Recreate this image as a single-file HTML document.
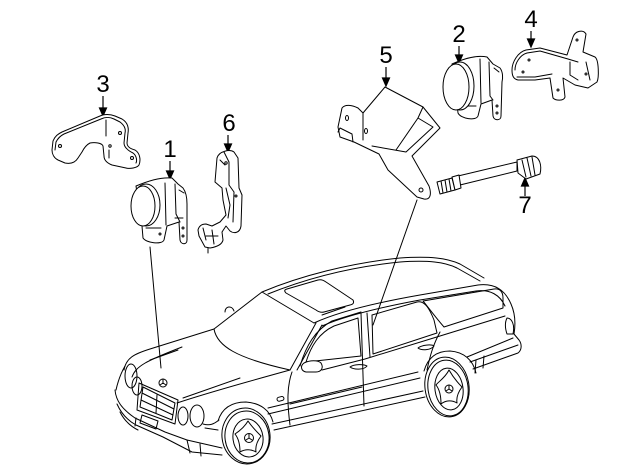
<!DOCTYPE html>
<html><head><meta charset="utf-8"><style>
html,body{margin:0;padding:0;background:#fff;}
svg{display:block;}
text{font-family:"Liberation Sans",Arial,sans-serif;font-size:24px;fill:#000;}
</style></head><body>
<svg width="640" height="471" viewBox="0 0 640 471" xmlns="http://www.w3.org/2000/svg">
<g fill="none" stroke="#000" stroke-width="1" stroke-linejoin="round" stroke-linecap="round">

<!-- ===== Labels & arrows ===== -->
</g>
<g text-anchor="middle">
<text x="103" y="92">3</text>
<text x="170" y="157">1</text>
<text x="229" y="131">6</text>
<text x="386" y="63">5</text>
<text x="459" y="42">2</text>
<text x="531" y="27">4</text>
<text x="525" y="213">7</text>
</g>
<g stroke="#000" stroke-width="1.2" fill="#000">
<line x1="103" y1="96" x2="103" y2="109"/><path d="M99.5,108 L106.5,108 L103,116 Z"/>
<line x1="170" y1="161" x2="170" y2="172"/><path d="M166.5,171 L173.5,171 L170,179 Z"/>
<line x1="228" y1="135" x2="228" y2="145"/><path d="M224.5,144 L231.5,144 L228,152 Z"/>
<line x1="386" y1="67" x2="386" y2="79"/><path d="M382.5,78 L389.5,78 L386,86 Z"/>
<line x1="459" y1="46" x2="459" y2="56"/><path d="M455.5,55 L462.5,55 L459,63 Z"/>
<line x1="531" y1="31" x2="531" y2="40"/><path d="M527.5,39 L534.5,39 L531,47 Z"/>
<line x1="525" y1="185" x2="525" y2="196"/><path d="M521.5,186 L528.5,186 L525,178 Z"/>
</g>

<g fill="none" stroke="#000" stroke-width="1" stroke-linejoin="round" stroke-linecap="round">
<!-- leader lines -->
<line x1="150" y1="247" x2="161" y2="368"/>
<line x1="417" y1="200" x2="373" y2="325"/>

<!-- ===== Part 3 bracket ===== -->
<path fill="#fff" d="M52,150 L53,141 C55,136 58,134 62,132 L100,116 C104,114 110,114 115,116 L122,119 C127,122 129,127 128,133 L127,143 C127,147 131,149 135,150 C140,153 141,160 139,165 C137,168 130,169 126,168 L112,165 C107,163 104,160 104,156 L103,146 C102,143 95,142 90,143 C86,145 84,148 82,152 L78,158 C75,163 70,164 65,163 L58,160 C54,158 52,154 52,150 Z"/>
<path d="M55,150 L56,142 C58,138 60,136 64,134 L101,119 C105,117 110,117 114,119 L120,122 C124,125 126,129 125,133 L124,143 C124,148 129,151 133,153 C137,156 137,161 136,163 M106,120 L106,136 M109,150 L109,158"/>
<circle cx="60" cy="146" r="1.5"/><circle cx="120" cy="133" r="1.5"/><circle cx="132" cy="158" r="1.5"/><circle cx="110" cy="146" r="1.2"/>

<!-- ===== Part 1 sensor ===== -->
<path fill="#fff" d="M136,186 C150,180 162,177 172,178 L178,184 L183,188 C186,192 187,198 187,204 L187,240 C187,245 181,245 180,240 L179,222 L167,226 L164,240 C162,245 146,243 143,238 L142,226 Z"/>
<path d="M175,184 L176,214 L180,222 M179,190 L184,193 M165,183 L166,225 M146,228 L161,228 M175,218 L183,218"/>
<circle cx="183" cy="228" r="1"/><circle cx="183" cy="236" r="1"/><circle cx="160" cy="234" r="1"/>
<ellipse fill="#fff" cx="146" cy="205" rx="14" ry="21"/>
<ellipse fill="#fff" cx="143" cy="206" rx="12" ry="20"/>

<!-- ===== Part 6 link ===== -->
<path fill="#fff" d="M217,158 C219,151 230,149 234,152 L238,158 L239,188 L242,195 L241,226 C240,233 234,234 230,231 L226,226 L222,232 L223,240 C222,245 216,247 210,248 L205,247 L199,236 L198,230 C199,226 202,224 206,224 L212,226 L220,222 L226,215 L223,200 L222,188 L215,182 Z"/>
<path d="M224,152 L229,162 L229,185 L234,192 L233,222 M220,160 L225,165 M226,188 L230,205 L228,218 M203,228 L206,240 M212,230 L214,244 M206,236 L218,236"/>
<line x1="208" y1="248" x2="208" y2="253"/>
<circle cx="226" cy="163" r="1.2"/><circle cx="236" cy="196" r="1"/>

<!-- ===== Part 5 bracket ===== -->
<path fill="#fff" d="M342,108 C345,104 352,105 358,108 L363,113 L385,87 L423,107 L440,128 L412,156 L429,186 C432,195 430,200 424,199 L417,197 L388,170 L379,154 L354,142 L340,137 L338,127 Z"/>
<path d="M363,113 L363,140 M423,107 L418,118 L433,127 L406,152 L372,146 M418,118 L396,150 M340,128 L352,134 L353,142 M340,128 L338,132"/>
<ellipse cx="347" cy="118" rx="1.5" ry="2.5"/><ellipse cx="366" cy="131" rx="1.5" ry="2.5"/><circle cx="421" cy="190" r="2"/>

<!-- ===== Part 2 sensor ===== -->
<path fill="#fff" d="M452,64 C465,58 478,55 487,57 L493,64 L500,68 C503,72 503,78 502,82 L501,116 C501,121 494,121 493,116 L492,100 L481,104 L478,116 C476,121 461,119 458,113 L457,104 Z"/>
<path d="M489,62 L490,96 L493,100 M494,68 L499,72 M480,59 L481,103 M461,106 L476,106"/>
<circle cx="497" cy="106" r="1"/><circle cx="497" cy="113" r="1"/>
<ellipse fill="#fff" cx="460" cy="86" rx="14" ry="24"/>
<ellipse fill="#fff" cx="456" cy="87" rx="13" ry="23"/>

<!-- ===== Part 4 bracket ===== -->
<path fill="#fff" d="M512,70 C512,62 518,52 526,50 L540,48 L567,55 L573,37 C575,31 583,29 586,34 L583,52 L595,57 C599,60 599,78 597,82 L588,88 L575,85 L563,78 L565,97 C564,101 556,101 553,98 L550,78 L535,80 L518,80 C513,79 512,75 512,70 Z"/>
<path d="M515,70 C515,63 520,55 527,53 L540,51 L568,59 L578,62 M517,77 L535,77 L552,74 M570,62 L570,75 L578,80 M586,62 L590,80"/>
<circle cx="529" cy="60" r="1"/><circle cx="523" cy="72" r="1"/><circle cx="577" cy="40" r="1"/><circle cx="586" cy="74" r="1"/><circle cx="558" cy="90" r="1"/>

<!-- ===== Part 7 rod ===== -->
<path fill="#fff" d="M458,176 L517,162 L517,171 L460,185 Z"/>
<path fill="#fff" d="M437,182 L452,178 L455,190 L440,194 Z"/>
<path d="M441,181 L443,193 M445,180 L447,192 M449,179 L451,191"/>
<path fill="#fff" d="M452,177 L459,175 L461,188 L455,190 Z"/>
<path fill="#fff" d="M517,160 L532,156 C540,156 542,166 540,174 L526,179 L518,173 Z"/>
<path d="M522,160 L526,177 M527,158 L531,176 M532,157 L535,175"/>

<!-- ===== CAR ===== -->
<!-- hood & front -->
<path d="M124,370 C126,358 134,354 150,349 L214,329"/>
<path d="M132,377 C136,366 146,361 182,347"/>
<path d="M150,360 L178,350"/>
<path d="M183,398 L240,378"/>
<path d="M177,403 C210,392 250,381 290,370"/>
<path d="M125,366 C121,373 118,381 116,390"/>
<!-- windshield -->
<path d="M214,329 C217,346 236,358 290,370"/>
<path d="M214,329 L262,292 L314,323"/>
<path d="M290,370 L316,323 M297,370 L322,325"/>
<!-- far mirror -->
<path d="M225,312 C225,306 232,305 234,311"/>
<!-- roof -->
<path d="M262,292 C300,276 350,263 400,258 C430,256 447,258 460,264 L484,278"/>
<path d="M268,294 C305,279 350,267 400,262 C428,260 445,262 457,268 L480,281"/>
<path d="M314,323 C340,311 380,302 420,295 L478,285 C495,283 505,290 511,304 C515,313 516,322 514,334"/>
<path d="M322,326 C345,316 382,307 420,300 L476,291 C490,289 500,295 505,306"/>
<path d="M287,289 L318,280 Q322,279 326,282 L353,300 Q355,304 350,305 L324,312 Q320,313 316,310 L286,293 Q283,290 287,289 Z"/>
<path d="M322,315 L345,307"/>
<!-- side windows -->
<path d="M306,362 C311,346 319,333 334,326 L358,318 L361,356 Z"/>
<path d="M300,366 C306,346 315,330 332,321 L361,312"/>
<path d="M361,313 L364,406 M367,313 L370,357"/>
<path d="M372,315 L417,302 C425,300 430,310 434,320 L437,333 L373,354 Z"/>
<path d="M423,301 L494,289 C500,288 503,292 503,298 L503,308 L444,327 C436,318 428,307 423,301 Z"/>
<!-- belt line -->
<path d="M322,370 L365,359 L440,336 L505,316"/>
<!-- mirror -->
<path fill="#fff" d="M304,363 C310,360 318,360 321,363 C324,368 321,372 316,372 L306,372 C301,371 300,366 304,363 Z"/>
<!-- door edges -->
<path d="M292,372 C287,386 287,402 290,425"/>
<path d="M440,332 C433,345 430,356 427,370"/>
<!-- door handles -->
<path d="M350,367 C354,364 364,364 367,366 C364,370 354,370 350,367 Z"/>
<path d="M418,348 C422,345 431,344 434,346 C431,350 422,351 418,348 Z"/>
<!-- side marker -->
<rect x="277" y="397" width="7" height="4" rx="2" transform="rotate(-15 280 399)"/>
<!-- side moldings -->
<path d="M268,408 L418,372 M268,414 L420,378 M272,424 L423,391 M274,430 L425,397"/>
<path d="M290,404 L362,387"/>
<!-- rear -->
<path d="M507,318 C512,318 515,325 513,334 L507,334 C505,328 505,322 507,318 Z"/>
<path d="M514,334 L519,340 C522,344 522,350 518,353 L473,369 M467,357 L513,338 M470,362 L518,345"/>
<path d="M475,373 L476,360 M483,368 L484,356"/>
<!-- rear wheel -->
<path d="M424,371 C428,357 437,351 450,351 C464,352 473,360 476,373"/>
<ellipse cx="447" cy="387" rx="22" ry="30" transform="rotate(-8 447 387)" fill="#fff"/>
<ellipse cx="448" cy="388" rx="20" ry="28" transform="rotate(-8 448 388)"/>
<ellipse cx="449" cy="389" rx="14" ry="21" transform="rotate(-8 449 389)"/>
<path d="M449,370 C445,378 438,382 436,385 C440,390 441,397 441,404 C446,400 452,400 457,403 C456,397 459,391 462,387 C458,383 453,377 449,370 Z"/>
<circle cx="449" cy="389" r="4"/>
<path d="M449,385 L449,389 L446,391 M449,389 L452,391"/>
<!-- front wheel -->
<path d="M218,421 C222,408 232,402 246,402 C260,403 270,410 273,422"/>
<ellipse cx="246" cy="436" rx="24" ry="28" transform="rotate(-8 246 436)" fill="#fff"/>
<ellipse cx="247" cy="437" rx="22" ry="26" transform="rotate(-8 247 437)"/>
<ellipse cx="248" cy="438" rx="15" ry="19" transform="rotate(-8 248 438)"/>
<path d="M248,421 C244,428 238,432 235,434 C239,439 240,446 240,452 C245,449 251,449 256,452 C255,446 258,440 261,436 C257,432 252,427 248,421 Z"/>
<circle cx="249" cy="438" r="4.5"/>
<path d="M249,434 L249,438 L246,440 M249,438 L252,440"/>
<!-- front fender lower -->
<path d="M203,424 C210,426 214,424 219,420"/>
<path d="M205,428 L218,430"/>
<!-- grille -->
<path d="M139,383 L178,400 L175,424 L137,410 Z"/>
<path d="M143,387 L175,403 L172,420 L140,407 Z"/>
<path d="M142,393 L174,409 M141,400 L173,415 M157,395 L156,413"/>
<!-- headlights -->
<ellipse cx="131" cy="376" rx="6" ry="12"/>
<ellipse cx="137" cy="386" rx="5" ry="9"/>
<ellipse cx="183" cy="416" rx="5" ry="9"/>
<ellipse cx="197" cy="416" rx="7" ry="11"/>
<!-- star -->
<circle cx="163" cy="383" r="4"/>
<path d="M163,379 L163,383 L160,385 M163,383 L166,385"/>
<!-- bumper -->
<path d="M115,390 C116,401 122,409 135,418 L165,432 L187,440 L222,448"/>
<path d="M117,404 C121,413 127,420 136,425 L163,437 L192,452 L222,455"/>
<path d="M120,412 C124,420 130,426 138,430"/>
<path d="M187,440 L190,453 M200,444 L201,456"/>
<path d="M142,415 L158,421 L156,429 L140,423 Z"/>
<path d="M136,418 L135,426"/>
</g>
</svg>
</body></html>
